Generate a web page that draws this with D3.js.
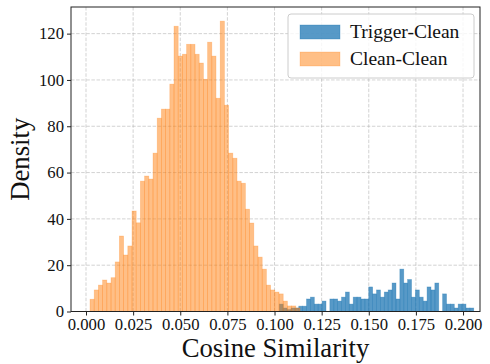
<!DOCTYPE html>
<html>
<head>
<meta charset="utf-8">
<script src="https://cdn.jsdelivr.net/npm/d3@7"></script>
<style>
  html, body { margin: 0; padding: 0; background: #fff; }
  svg { display: block; font-family: "Liberation Serif", "Times New Roman", serif; }
</style>
</head>
<body>
<svg id="chart" width="490" height="364"></svg>
<script>
// Histogram bin layout (cosine similarity units)
const triggerBinStart = 0.10255;
const triggerBinWidth = 0.0020626;
const cleanBinStart = 0.00212;
const cleanBinWidth = 0.002228;

// Density per bin, Trigger-Clean pairs
const triggerDensity = [
  3.2, 1.5, 0.8, 1.5, 1.5, 2.3, 2.3, 5.4, 6.2, 3.2,
  3.2, 4.5, 0.0, 5.4, 5.4, 4.5, 6.2, 8.4, 3.2, 6.2,
  6.2, 5.4, 5.4, 10.6, 7.6, 9.3, 6.2, 8.4, 9.3, 12.3,
  5.4, 18.3, 12.3, 13.8, 6.2, 9.3, 6.2, 4.5, 10.6, 9.3,
  12.3, 0.0, 7.6, 3.2, 3.2, 1.5, 3.2, 3.2, 1.5, 1.5
];

// Density per bin, Clean-Clean pairs
const cleanDensity = [
  5.3, 9.3, 11.4, 13.6, 12.3, 14.6, 21.4, 32.6, 24.4, 28.3,
  43.4, 38.3, 56.3, 58.5, 57.2, 68.4, 83.5, 87.4, 87.4, 98.2,
  123.2, 110.3, 111.1, 115.4, 115.4, 111.1, 107.3, 100.3, 116.3, 110.3,
  92.1, 125.4, 89.1, 68.4, 66.2, 56.3, 55.4, 44.2, 38.2, 28.3,
  23.5, 18.3, 11.4, 9.3, 8.4, 7.6, 4.5, 2.4, 2.4, 1.5
];

const xTicks = [0.000, 0.025, 0.050, 0.075, 0.100, 0.125, 0.150, 0.175, 0.200];
const yTicks = [0, 20, 40, 60, 80, 100, 120];
const seriesNames = ["Trigger-Clean", "Clean-Clean"];

const svg = d3.select("#chart");
const margin = { left: 71, right: 10, top: 7, bottom: 52.5 };
const W = 490, H = 364;
const plotW = W - margin.left - margin.right;
const plotH = H - margin.top - margin.bottom;

const x = d3.scaleLinear().domain([-0.00796, 0.2090]).range([0, plotW]);
const y = d3.scaleLinear().domain([0, 131.5]).range([plotH, 0]);

const g = svg.append("g").attr("transform", `translate(${margin.left},${margin.top})`);

// Dashed grid
const grid = g.append("g").attr("class", "grid");
grid.selectAll("line.gx").data(xTicks).join("line")
  .attr("x1", d => x(d)).attr("x2", d => x(d))
  .attr("y1", 0).attr("y2", plotH)
  .attr("stroke", "#b0b0b0").attr("stroke-opacity", 0.7)
  .attr("stroke-width", 0.8).attr("stroke-dasharray", "3.5,1.6");
grid.selectAll("line.gy").data(yTicks).join("line")
  .attr("x1", 0).attr("x2", plotW)
  .attr("y1", d => y(d)).attr("y2", d => y(d))
  .attr("stroke", "#b0b0b0").attr("stroke-opacity", 0.7)
  .attr("stroke-width", 0.8).attr("stroke-dasharray", "3.5,1.6");

function toBins(values, start, width) {
  return values.map((v, i) => ({ x0: start + i * width, x1: start + (i + 1) * width, v }));
}

const series = [
  { name: seriesNames[0], bins: toBins(triggerDensity, triggerBinStart, triggerBinWidth), color: "#1f77b4", alpha: 0.75 },
  { name: seriesNames[1], bins: toBins(cleanDensity, cleanBinStart, cleanBinWidth), color: "#ff7f0e", alpha: 0.5 }
];

series.forEach(s => {
  g.append("g").selectAll("rect").data(s.bins.filter(b => b.v > 0)).join("rect")
    .attr("x", d => x(d.x0))
    .attr("width", d => x(d.x1) - x(d.x0))
    .attr("y", d => y(d.v))
    .attr("height", d => y(0) - y(d.v))
    .attr("fill", s.color).attr("fill-opacity", s.alpha)
    .attr("stroke", s.color).attr("stroke-opacity", s.alpha * 0.6)
    .attr("stroke-width", 0.7);
});

// Axes
const xAxis = g.append("g").attr("transform", `translate(0,${plotH})`)
  .call(d3.axisBottom(x).tickValues(xTicks).tickFormat(d3.format(".3f")).tickSize(4).tickPadding(3));
const yAxis = g.append("g")
  .call(d3.axisLeft(y).tickValues(yTicks).tickFormat(d3.format("d")).tickSize(4).tickPadding(3));
[xAxis, yAxis].forEach(a => {
  a.select(".domain").remove();
  a.selectAll("line").attr("stroke", "#222").attr("stroke-width", 1);
  a.selectAll("text").attr("fill", "#111").style("font-size", "16.7px")
    .style("font-family", '"Liberation Serif", "Times New Roman", serif');
});

// Frame
g.append("rect").attr("x", 0).attr("y", 0).attr("width", plotW).attr("height", plotH)
  .attr("fill", "none").attr("stroke", "#222").attr("stroke-width", 1);

// Axis titles
svg.append("text")
  .attr("x", margin.left + plotW / 2).attr("y", 357)
  .attr("text-anchor", "middle").style("font-size", "26.7px").attr("fill", "#111")
  .text("Cosine Similarity");
svg.append("text")
  .attr("transform", `translate(29,${margin.top + plotH / 2}) rotate(-90)`)
  .attr("text-anchor", "middle").style("font-size", "26.7px").attr("fill", "#111")
  .text("Density");

// Legend
const lg = svg.append("g").attr("transform", "translate(288,14)");
lg.append("rect").attr("width", 186).attr("height", 64).attr("rx", 3)
  .attr("fill", "#fff").attr("fill-opacity", 0.8)
  .attr("stroke", "#cccccc").attr("stroke-width", 1);
series.forEach((s, i) => {
  const row = lg.append("g").attr("transform", `translate(12,${11 + i * 27})`);
  row.append("rect").attr("width", 40).attr("height", 14)
    .attr("fill", s.color).attr("fill-opacity", s.alpha)
    .attr("stroke", s.color).attr("stroke-opacity", s.alpha * 0.6).attr("stroke-width", 0.7);
  row.append("text").attr("x", 50).attr("y", 12.5)
    .style("font-size", "19.5px").attr("fill", "#111").text(s.name);
});
</script>
</body>
</html>
